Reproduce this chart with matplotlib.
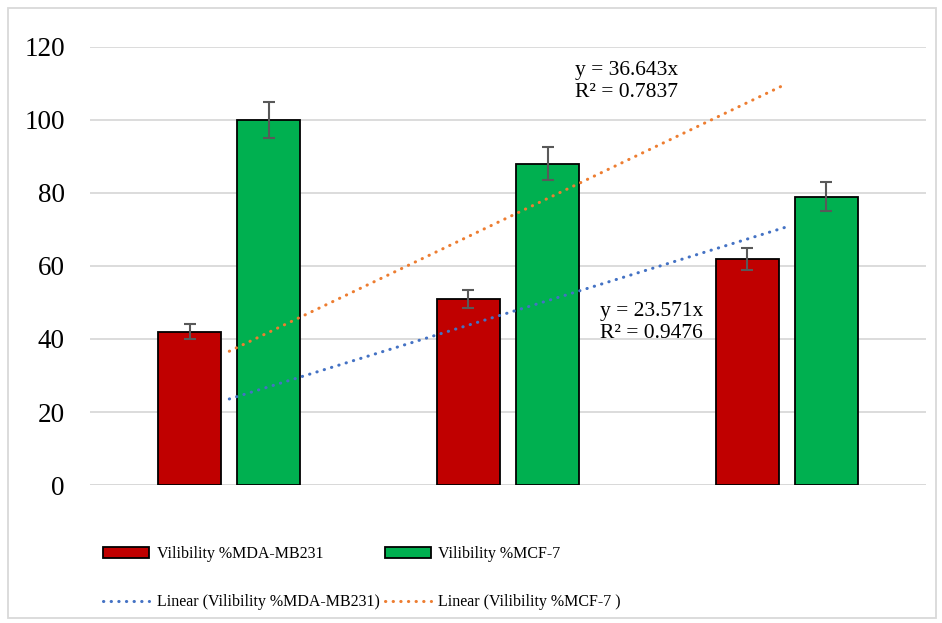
import matplotlib

matplotlib.use("Agg")
import matplotlib.pyplot as plt
import numpy as np
from matplotlib.lines import Line2D
from matplotlib.patches import Patch, Rectangle

plt.rcParams["font.family"] = ["Liberation Serif", "DejaVu Serif"]

# Data
groups = [1, 2, 3]
mda_values = [42, 51, 62]
mda_errors = [2, 2.5, 3]
mcf_values = [100, 88, 79]
mcf_errors = [5, 4.5, 4]
mda_slope = 23.571
mda_r2 = 0.9476
mcf_slope = 36.643
mcf_r2 = 0.7837
y_ticks = [0, 20, 40, 60, 80, 100, 120]

red = "#C00000"
green = "#00B050"
blue = "#4472C4"
orange = "#ED7D31"
grid_grey = "#D9D9D9"
err_grey = "#595959"

fig = plt.figure(figsize=(9.42, 6.23), dpi=100)
ax = fig.add_axes([0.0955, 0.2215, 0.8875, 0.7031])

x = np.array(groups, dtype=float)
width = 0.226
offset = 0.142
err_kw = dict(ecolor=err_grey, elinewidth=1.5, capsize=4.5, capthick=1.5)
ax.bar(x - offset, mda_values, width, color=red, edgecolor="black", linewidth=1.3,
       yerr=mda_errors, error_kw=err_kw, zorder=3)
ax.bar(x + offset, mcf_values, width, color=green, edgecolor="black", linewidth=1.3,
       yerr=mcf_errors, error_kw=err_kw, zorder=3)

# linear trendlines through origin, as Excel draws them
dots = dict(linestyle=(0, (0.1, 2.4)), dash_capstyle="round", linewidth=2.2, zorder=4)
ax.plot(x, mda_slope * x, color=blue, **dots)
ax.plot(x, mcf_slope * x, color=orange, **dots)

# trendline equations (va="baseline" sits on the last line)
ax.text(2.33, 40.3, f"y = {mda_slope}x\nR² = {mda_r2}", fontsize=15.5, va="baseline",
        linespacing=1.22, zorder=2)
ax.text(2.24, 106.2, f"y = {mcf_slope}x\nR² = {mcf_r2}", fontsize=15.5, va="baseline",
        linespacing=1.22, zorder=5)

ax.set_xlim(0.5, 3.5)
ax.set_ylim(0, 120)
ax.set_yticks(y_ticks)
ax.set_xticks([])
ax.tick_params(axis="y", length=0, labelsize=19.5, pad=18)
ax.grid(axis="y", color=grid_grey, linewidth=1.3, zorder=0)
for s in ax.spines.values():
    s.set_visible(False)
ax.axhline(0, color=grid_grey, linewidth=1.3, zorder=1)

handles = [
    Patch(facecolor=red, edgecolor="black", linewidth=1.3),
    Line2D([], [], color=blue, **dots),
    Patch(facecolor=green, edgecolor="black", linewidth=1.3),
    Line2D([], [], color=orange, **dots),
]
labels = [
    "Vilibility %MDA-MB231",
    "Linear (Vilibility %MDA-MB231)",
    "Vilibility %MCF-7",
    "Linear (Vilibility %MCF-7 )",
]
fig.legend(handles, labels, ncol=2, loc="upper left", bbox_to_anchor=(103 / 942, 0.123),
           frameon=False, fontsize=11.5, handlelength=2.9, handleheight=0.7,
           handletextpad=0.45, columnspacing=0.35, labelspacing=2.0, borderpad=0,
           borderaxespad=0)

fig.patches.append(Rectangle((8 / 942, 5 / 623), 928 / 942, 610 / 623, transform=fig.transFigure,
                             fill=False, edgecolor=grid_grey, linewidth=1.3))

fig.savefig("out.png", dpi=100)
